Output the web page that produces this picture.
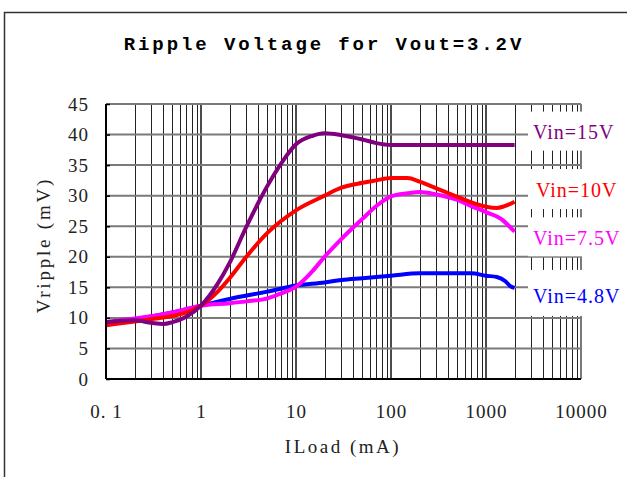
<!DOCTYPE html>
<html>
<head>
<meta charset="utf-8">
<script src="https://cdn.jsdelivr.net/npm/d3@7"></script>
<style>
  body { margin: 0; background: #fff; }
  svg { display: block; }
</style>
</head>
<body>
<div id="chart"></div>
<script>
// load current (mA) and ripple (mV) for each input voltage
const load15 = [0.1, 0.2, 0.3, 0.4, 0.5, 0.7, 1, 1.5, 2, 3, 4, 5, 7, 10, 15, 20, 30, 50, 70, 100, 300, 1000, 2000]
const ripple15 = [9.3, 9.6, 9.2, 9.0, 9.3, 10.2, 12.0, 15.6, 19.0, 24.9, 28.8, 31.6, 35.3, 38.4, 39.8, 40.2, 39.9, 39.2, 38.6, 38.3, 38.3, 38.3, 38.3]

const load10 = [0.1, 0.2, 0.3, 0.5, 0.7, 1, 1.5, 2, 3, 5, 10, 20, 30, 50, 70, 100, 150, 200, 300, 500, 1000, 1300, 2000]
const ripple10 = [8.8, 9.4, 9.8, 10.3, 10.9, 12.0, 14.3, 16.5, 20.0, 23.9, 27.6, 30.0, 31.3, 32.1, 32.5, 32.9, 32.9, 32.3, 31.2, 29.8, 28.2, 28.0, 29.0]

const load75 = [0.1, 0.2, 0.5, 1, 2, 3, 5, 7, 10, 15, 20, 30, 50, 70, 100, 150, 200, 300, 500, 700, 1000, 1500, 1700, 2000]
const ripple75 = [9.3, 9.9, 10.9, 12.0, 12.4, 12.7, 13.2, 14.0, 15.1, 17.7, 20.0, 22.9, 26.2, 28.3, 29.9, 30.4, 30.6, 30.2, 29.3, 28.3, 27.3, 26.0, 25.2, 24.1]

const load48 = [0.1, 0.2, 0.5, 1, 2, 5, 10, 20, 30, 50, 100, 200, 300, 500, 700, 1000, 1300, 1600, 1800, 2000]
const ripple48 = [9.2, 9.8, 10.9, 12.0, 13.1, 14.3, 15.3, 15.8, 16.2, 16.5, 16.9, 17.3, 17.3, 17.3, 17.3, 16.9, 16.7, 16.0, 15.2, 14.9]

const seriesNames = ['Vin=15V', 'Vin=10V', 'Vin=7.5V', 'Vin=4.8V']
const seriesColors = ['#800080', '#ff0000', '#ff00ff', '#0000ff']

const xTicks = [0.1, 1, 10, 100, 1000, 10000]
const xTickLabels = ['0. 1', '1', '10', '100', '1000', '10000']
const yTicks = [0, 5, 10, 15, 20, 25, 30, 35, 40, 45]

const margin = { top: 104, left: 106, right: 46, bottom: 98 }
const width = 627 - margin.left - margin.right
const height = 477 - margin.top - margin.bottom

const svg = d3
  .select('#chart')
  .append('svg')
  .attr('width', 627)
  .attr('height', 477)

// outer frame (only left + top visible in the picture)
svg
  .append('path')
  .attr('d', 'M4.5,477V12.5H627')
  .attr('fill', 'none')
  .attr('stroke', '#333')
  .attr('stroke-width', 1.5)

svg
  .append('text')
  .text('Ripple Voltage for Vout=3.2V')
  .attr('x', 324)
  .attr('y', 50)
  .attr('text-anchor', 'middle')
  .attr('font-family', 'Liberation Mono, monospace')
  .attr('font-size', 19)
  .attr('font-weight', 'bold')
  .attr('letter-spacing', 2.9)

const g = svg
  .append('g')
  .attr('transform', 'translate(' + margin.left + ',' + margin.top + ')')

const xPositionScale = d3
  .scaleLog()
  .domain([0.1, 10000])
  .range([0, width])
const yPositionScale = d3
  .scaleLinear()
  .domain([0, 45])
  .range([height, 0])

// minor vertical grid
const minorTicks = []
for (let dec = 0.1; dec < 10000; dec *= 10) {
  for (let k = 2; k <= 9; k++) minorTicks.push(+(dec * k).toPrecision(3))
}
g.selectAll('.minor')
  .data(minorTicks)
  .enter()
  .append('line')
  .attr('class', 'minor')
  .attr('x1', d => Math.round(xPositionScale(d)) + 0.5)
  .attr('x2', d => Math.round(xPositionScale(d)) + 0.5)
  .attr('y1', 0)
  .attr('y2', height)
  .attr('stroke', '#222')
  .attr('stroke-width', 1)

g.selectAll('.major')
  .data(xTicks.slice(1, -1))
  .enter()
  .append('line')
  .attr('class', 'major')
  .attr('x1', d => xPositionScale(d))
  .attr('x2', d => xPositionScale(d))
  .attr('y1', 0)
  .attr('y2', height)
  .attr('stroke', '#111')
  .attr('stroke-width', 1.5)

// horizontal grid
g.selectAll('.hgrid')
  .data(yTicks.slice(1))
  .enter()
  .append('line')
  .attr('class', 'hgrid')
  .attr('x1', 0)
  .attr('x2', width)
  .attr('y1', d => yPositionScale(d))
  .attr('y2', d => yPositionScale(d))
  .attr('stroke', '#7a7a7a')
  .attr('stroke-width', 2)

// right border
g.append('line')
  .attr('x1', width)
  .attr('x2', width)
  .attr('y1', 0)
  .attr('y2', height)
  .attr('stroke', '#7a7a7a')
  .attr('stroke-width', 2)

const line = d3
  .line()
  .x(d => xPositionScale(d[0]))
  .y(d => yPositionScale(d[1]))
  .curve(d3.curveMonotoneX)

const allSeries = [
  d3.zip(load48, ripple48),
  d3.zip(load75, ripple75),
  d3.zip(load10, ripple10),
  d3.zip(load15, ripple15)
]
const drawColors = [seriesColors[3], seriesColors[2], seriesColors[1], seriesColors[0]]

g.selectAll('.curve')
  .data(allSeries)
  .enter()
  .append('path')
  .attr('class', 'curve')
  .attr('d', line)
  .attr('fill', 'none')
  .attr('stroke', (d, i) => drawColors[i])
  .attr('stroke-width', 4)
  .attr('stroke-linejoin', 'round')

// white boxes behind the series labels
const labelY = [39.5, 30.1, 22.2, 13.6]

g.selectAll('.lbox')
  .data(labelY)
  .enter()
  .append('rect')
  .attr('class', 'lbox')
  .attr('x', 422)
  .attr('y', d => yPositionScale(d) - 26)
  .attr('width', 120)
  .attr('height', (d, i) => [39, 40, 39, 46][i])
  .attr('fill', '#fff')

g.selectAll('.lbl')
  .data(seriesNames)
  .enter()
  .append('text')
  .attr('class', 'lbl')
  .text(d => d)
  .attr('x', (d, i) => (i === 1 ? 430 : 427))
  .attr('y', (d, i) => yPositionScale(labelY[i]) - 26 + [27, 28, 28, 33][i])
  .attr('fill', (d, i) => seriesColors[i])
  .attr('font-family', 'Liberation Serif, serif')
  .attr('font-size', 20)
  .attr('letter-spacing', 1)

// axes lines
g.append('line')
  .attr('x1', 0)
  .attr('x2', width)
  .attr('y1', 0)
  .attr('y2', 0)
  .attr('stroke', '#7a7a7a')
  .attr('stroke-width', 2)
g.append('line')
  .attr('x1', 0)
  .attr('x2', 0)
  .attr('y1', 0)
  .attr('y2', height)
  .attr('stroke', '#000')
  .attr('stroke-width', 2)
g.append('line')
  .attr('x1', 0)
  .attr('x2', width)
  .attr('y1', height)
  .attr('y2', height)
  .attr('stroke', '#000')
  .attr('stroke-width', 2)

const yAxis = d3
  .axisLeft(yPositionScale)
  .tickValues(yTicks)
  .tickSize(-4)
  .tickPadding(17)
g.append('g')
  .attr('class', 'axis y-axis')
  .call(yAxis)

const xAxis = d3
  .axisBottom(xPositionScale)
  .tickValues(xTicks)
  .tickFormat((d, i) => xTickLabels[i])
  .tickSize(0)
  .tickPadding(26)
g.append('g')
  .attr('class', 'axis x-axis')
  .attr('transform', 'translate(0,' + height + ')')
  .call(xAxis)

svg.selectAll('.axis path').remove()
svg.selectAll('.axis line').attr('stroke', '#000').attr('stroke-width', 1.5)
svg
  .selectAll('.axis text')
  .attr('font-family', 'Liberation Serif, serif')
  .attr('font-size', 19)
  .attr('letter-spacing', 1)
  .attr('fill', '#222')

svg
  .append('text')
  .text('ILoad (mA)')
  .attr('x', 343)
  .attr('y', 453)
  .attr('text-anchor', 'middle')
  .attr('font-family', 'Liberation Serif, serif')
  .attr('font-size', 19)
  .attr('letter-spacing', 2.5)
  .attr('fill', '#222')

svg
  .append('text')
  .text('Vripple (mV)')
  .attr('transform', 'translate(50,245) rotate(-90)')
  .attr('text-anchor', 'middle')
  .attr('font-family', 'Liberation Serif, serif')
  .attr('font-size', 19)
  .attr('letter-spacing', 2.8)
  .attr('fill', '#222')
</script>
</body>
</html>
